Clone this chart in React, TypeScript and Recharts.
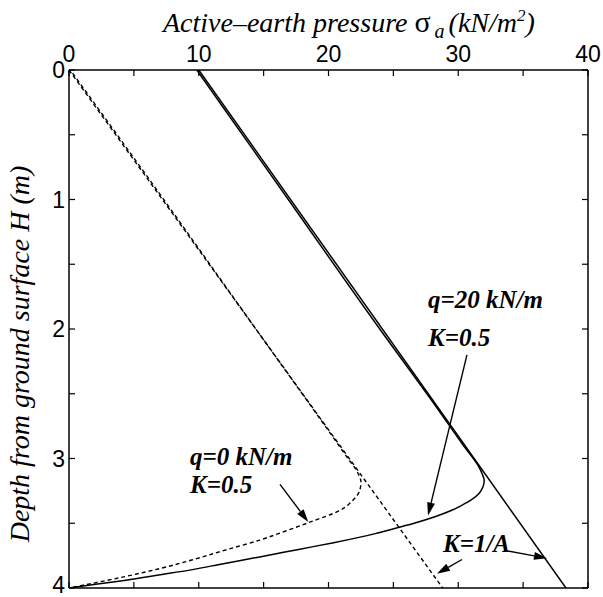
import React from 'react'
import { LineChart, Line, XAxis, YAxis, ReferenceLine } from 'recharts'

// depth H (m) and active earth pressure sigma_a (kN/m2) for each curve
const qZeroLinearH = [0, 4]
const qZeroLinearS = [0, 28.8]

const qZeroCurveH = [0, 1, 2, 2.8, 3.0, 3.1, 3.18, 3.25, 3.32, 3.4, 3.49, 3.56, 3.63, 3.7, 3.78, 3.85, 3.91, 3.96, 4]
const qZeroCurveS = [0.1, 7.3, 14.4, 20.1, 21.5, 22.2, 22.5, 22.4, 21.9, 20.9, 18.6, 16.7, 14.7, 12.3, 9.6, 7.0, 4.4, 2.0, 0]

const q20LinearH = [0, 4]
const q20LinearS = [10, 38.3]

const q20CurveH = [0, 1, 2, 2.6, 2.9, 3.05, 3.12, 3.17, 3.22, 3.27, 3.32, 3.36, 3.4, 3.45, 3.5, 3.54, 3.58, 3.65, 3.7, 3.76, 3.81, 3.86, 3.9, 3.94, 3.97, 4]
const q20CurveS = [9.85, 16.9, 23.95, 28.3, 30.4, 31.5, 31.85, 32.0, 31.9, 31.6, 31.0, 30.3, 29.5, 28.2, 26.6, 25.1, 23.6, 20.4, 17.8, 14.7, 12.0, 9.4, 6.9, 4.4, 2.2, 0]

const xTicks = [0, 5, 10, 15, 20, 25, 30, 35, 40]
const yTicks = [0, 0.5, 1, 1.5, 2, 2.5, 3, 3.5, 4]

// annotation arrows, in data units [sigma, H]
const arrows = [
  { from: [30.67, 2.2], to: [27.67, 3.44] },
  { from: [16.26, 3.2], to: [18.44, 3.49] },
  { from: [33.6, 3.71], to: [36.84, 3.77] },
  { from: [30.29, 3.78], to: [28.36, 3.89] },
]

const zip = (h: number[], s: number[]) => h.map((v, i) => ({ h: v, s: s[i] }))

const PLOT = { left: 69, top: 70, right: 588, bottom: 588 }
const tickFont = { fontFamily: '"Liberation Sans", Arial, sans-serif', fontSize: 23, fill: '#000' }
const TICK_LEN = 6

const TopTick = (props: any) => {
  const { x, payload } = props
  return (
    <g>
      <line x1={x} y1={PLOT.top} x2={x} y2={PLOT.top + TICK_LEN} stroke="#000" strokeWidth={1.2} />
      {payload.value % 10 === 0 && (
        <text x={x} y={62} textAnchor="middle" {...tickFont}>{payload.value}</text>
      )}
    </g>
  )
}

const BottomTick = (props: any) => {
  const { x } = props
  return <line x1={x} y1={PLOT.bottom} x2={x} y2={PLOT.bottom - TICK_LEN} stroke="#000" strokeWidth={1.2} />
}

const LeftTick = (props: any) => {
  const { y, payload } = props
  // keep the last label inside the picture
  const dy = payload.value === 4 ? 5 : 8
  return (
    <g>
      <line x1={PLOT.left} y1={y} x2={PLOT.left + TICK_LEN} y2={y} stroke="#000" strokeWidth={1.2} />
      {Number.isInteger(payload.value) && (
        <text x={65} y={y + dy} textAnchor="end" {...tickFont}>{payload.value}</text>
      )}
    </g>
  )
}

const RightTick = (props: any) => {
  const { y } = props
  return <line x1={PLOT.right} y1={y} x2={PLOT.right - TICK_LEN} y2={y} stroke="#000" strokeWidth={1.2} />
}

const Arrow = (props: any) => {
  const { x1, y1, x2, y2 } = props
  const dx = x2 - x1
  const dy = y2 - y1
  const len = Math.sqrt(dx * dx + dy * dy)
  const ux = dx / len
  const uy = dy / len
  const headLen = 13
  const headW = 4
  const bx = x2 - ux * headLen
  const by = y2 - uy * headLen
  const pts = `${x2},${y2} ${bx - uy * headW},${by + ux * headW} ${bx + uy * headW},${by - ux * headW}`
  return (
    <g>
      <line x1={x1} y1={y1} x2={bx} y2={by} stroke="#000" strokeWidth={1.4} />
      <polygon points={pts} fill="#000" />
    </g>
  )
}

const annoFont = {
  fontFamily: '"Liberation Serif", "Times New Roman", serif',
  fontStyle: 'italic',
  fontWeight: 'bold',
  fontSize: 25,
  fill: '#000',
}

const titleFont = {
  fontFamily: '"Liberation Serif", "Times New Roman", serif',
  fontStyle: 'italic',
  fontSize: 28,
  fill: '#000',
}

export default function App() {
  return (
    <div style={{ position: 'absolute', left: 0, top: 0, width: 603, height: 597, background: '#fff' }}>
      <LineChart width={603} height={597} margin={{ top: 0, right: 0, bottom: 0, left: 0 }}>
        <XAxis
          xAxisId="top"
          orientation="top"
          type="number"
          dataKey="s"
          domain={[0, 40]}
          ticks={xTicks}
          height={70}
          tickLine={false}
          axisLine={{ stroke: '#000', strokeWidth: 1.5 }}
          tick={<TopTick />}
          allowDataOverflow
        />
        <XAxis
          xAxisId="bottom"
          orientation="bottom"
          type="number"
          dataKey="s"
          domain={[0, 40]}
          ticks={xTicks}
          height={9}
          tickLine={false}
          axisLine={{ stroke: '#000', strokeWidth: 1.5 }}
          tick={<BottomTick />}
          allowDataOverflow
        />
        <YAxis
          yAxisId="left"
          orientation="left"
          type="number"
          domain={[0, 4]}
          reversed
          ticks={yTicks}
          width={69}
          tickLine={false}
          axisLine={{ stroke: '#000', strokeWidth: 1.5 }}
          tick={<LeftTick />}
          allowDataOverflow
        />
        <YAxis
          yAxisId="right"
          orientation="right"
          type="number"
          domain={[0, 4]}
          reversed
          ticks={yTicks}
          width={15}
          tickLine={false}
          axisLine={{ stroke: '#000', strokeWidth: 1.5 }}
          tick={<RightTick />}
          allowDataOverflow
        />
        <Line xAxisId="top" yAxisId="left" data={zip(qZeroLinearH, qZeroLinearS)} dataKey="h" type="linear"
          stroke="#000" strokeWidth={1.4} strokeDasharray="4 3" dot={false} isAnimationActive={false} />
        <Line xAxisId="top" yAxisId="left" data={zip(qZeroCurveH, qZeroCurveS)} dataKey="h" type="monotoneY"
          stroke="#000" strokeWidth={1.4} strokeDasharray="4 3" strokeDashoffset={3} dot={false} isAnimationActive={false} />
        <Line xAxisId="top" yAxisId="left" data={zip(q20LinearH, q20LinearS)} dataKey="h" type="linear"
          stroke="#000" strokeWidth={1.5} dot={false} isAnimationActive={false} />
        <Line xAxisId="top" yAxisId="left" data={zip(q20CurveH, q20CurveS)} dataKey="h" type="monotoneY"
          stroke="#000" strokeWidth={1.5} dot={false} isAnimationActive={false} />
        {arrows.map((a, i) => (
          <ReferenceLine
            key={i}
            xAxisId="top"
            yAxisId="left"
            segment={[{ x: a.from[0], y: a.from[1] }, { x: a.to[0], y: a.to[1] }]}
            shape={Arrow}
            ifOverflow="visible"
          />
        ))}
      </LineChart>
      <svg width={603} height={597} style={{ position: 'absolute', left: 0, top: 0, pointerEvents: 'none' }}>
        <text x={163} y={32} {...titleFont}>
          Active–earth pressure <tspan fontStyle="normal" fontSize={30}>σ</tspan>
          <tspan dx={4} dy={6} fontSize={20}>a</tspan>
          <tspan dx={4} dy={-6}>(kN/m</tspan>
          <tspan dy={-11} fontSize={17}>2</tspan>
          <tspan dy={11}>)</tspan>
        </text>
        <text x={29} y={354} transform="rotate(-90 29 354)" textAnchor="middle" {...titleFont}>
          Depth from ground surface H (m)
        </text>
        <text x={428} y={308} {...annoFont}>q=20 kN/m</text>
        <text x={428} y={346} {...annoFont}>K=0.5</text>
        <text x={190} y={465} {...annoFont}>q=0 kN/m</text>
        <text x={190} y={493} {...annoFont}>K=0.5</text>
        <text x={443} y={552} {...annoFont}>K=1/A</text>
      </svg>
    </div>
  )
}
